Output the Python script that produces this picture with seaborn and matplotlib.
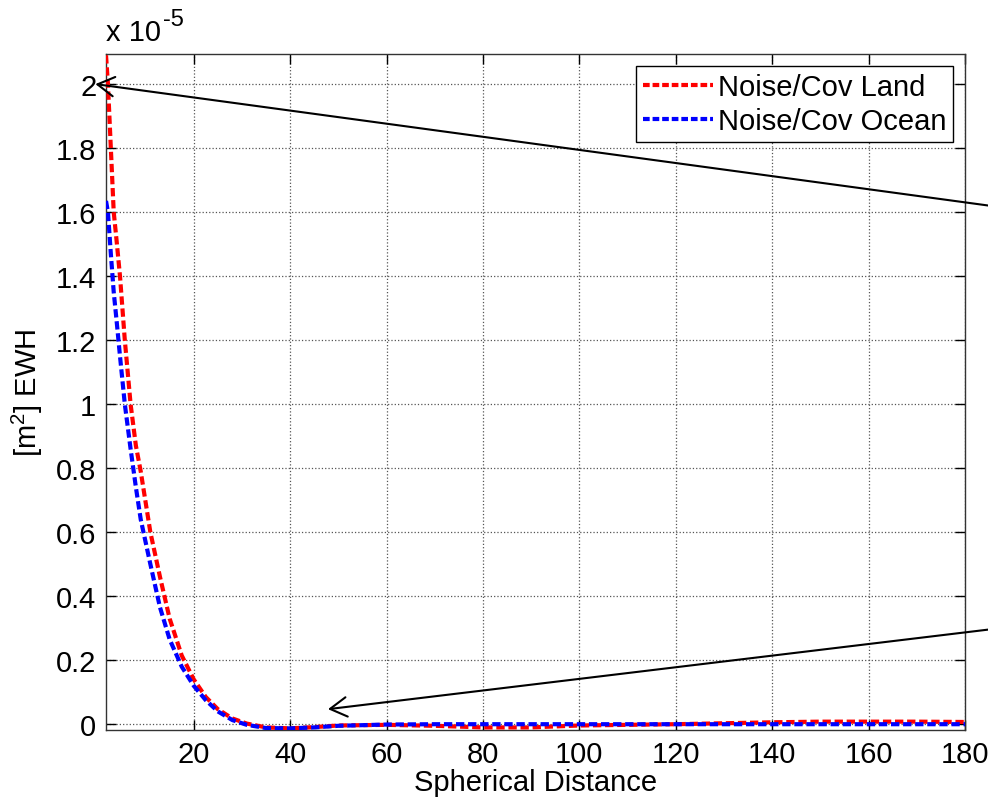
#!/usr/bin/env python3
import matplotlib
matplotlib.use('Agg')
import matplotlib.pyplot as plt
import seaborn as sns

# values, y in units of 1e-5 m^2 EWH
DIST = [1.8, 2.2, 2.8, 3.4, 4.0, 4.7, 5.7, 6.9, 8.0, 9.0, 11, 13, 15, 17.5, 20, 22.5, 25, 28, 31,
        35, 40, 45, 50, 60, 70, 80, 90, 100, 110, 120, 130, 140, 150, 160, 170, 180]
LAND = [2.09, 2.0, 1.8, 1.6, 1.51, 1.4, 1.2, 1.0, 0.87, 0.79, 0.6, 0.46, 0.33, 0.215, 0.14, 0.085,
        0.047, 0.018, 0.002, -0.01, -0.013, -0.009, -0.004, -0.002, -0.005, -0.01, -0.01, -0.004,
        -0.002, 0.0, 0.003, 0.006, 0.008, 0.008, 0.008, 0.007]
OCEAN = [1.635, 1.6, 1.47, 1.35, 1.26, 1.15, 1.0, 0.86, 0.74, 0.64, 0.5, 0.365, 0.265, 0.18, 0.12,
         0.075, 0.04, 0.013, -0.002, -0.012, -0.013, -0.01, -0.005, -0.001, 0.0, 0.0, 0.0, 0.0,
         0.0, 0.0, 0.0, 0.0, 0.0, 0.0, 0.0, 0.0]
LABELS = ['Noise/Cov Land', 'Noise/Cov Ocean']
COLORS = ['#ff0000', '#0000ff']
X_TICKS = [20, 40, 60, 80, 100, 120, 140, 160, 180]
Y_TICKS = [0, 0.2, 0.4, 0.6, 0.8, 1, 1.2, 1.4, 1.6, 1.8, 2]

sns.set_style('ticks')
plt.rcParams['font.family'] = ['Liberation Sans', 'DejaVu Sans']
plt.rcParams['mathtext.fontset'] = 'custom'
plt.rcParams['mathtext.rm'] = 'Liberation Sans'
plt.rcParams['mathtext.it'] = 'Liberation Sans:italic'
plt.rcParams['text.color'] = 'black'
plt.rcParams['axes.labelcolor'] = 'black'
FS = 21

fig = plt.figure(figsize=(9.88, 8.03), dpi=100)
ax = fig.add_axes([0.1073, 0.0897, 0.8694, 0.8418])

for series, label, color in zip([LAND, OCEAN], LABELS, COLORS):
    sns.lineplot(x=DIST, y=series, ax=ax, color=color, label=label, linewidth=3.0,
                 dashes=False, zorder=3)
for line in ax.get_lines():
    line.set_dashes((2.0, 0.9))

ax.set_xlim(1.8, 180)
ax.set_ylim(-0.018, 2.094)
ax.set_xticks(X_TICKS)
ax.set_yticks(Y_TICKS)
ax.set_xticklabels([f'{t:g}' for t in X_TICKS], fontsize=FS)
ax.set_yticklabels([f'{t:g}' for t in Y_TICKS], fontsize=FS)
ax.tick_params(direction='in', top=True, right=True, length=7, width=1, pad=7, colors='black')
ax.grid(True, linestyle=':', color='#555555', linewidth=0.9)
for sp in ax.spines.values():
    sp.set_color('#333333')
    sp.set_linewidth(1)

ax.set_xlabel('Spherical Distance', fontsize=FS, labelpad=0)
ax.set_ylabel('[m$^2$] EWH', fontsize=FS, labelpad=8)
ax.text(0.0, 1.012, 'x 10', transform=ax.transAxes, fontsize=FS, va='bottom', ha='left')
ax.text(0.066, 1.036, '-5', transform=ax.transAxes, fontsize=FS - 4, va='bottom', ha='left')

leg = ax.legend(loc='upper right', fontsize=FS, fancybox=False, framealpha=1, edgecolor='black',
                borderaxespad=0.4, handlelength=2.4, handletextpad=0.15, borderpad=0.25,
                labelspacing=0.2)
leg.get_frame().set_linewidth(1)
for h in leg.get_lines():
    h.set_dashes((1.6, 0.7))

# annotation arrows running off the right edge
arrow = dict(arrowstyle='->,head_length=0.6,head_width=0.35', color='black', lw=1.5,
             shrinkA=0, shrinkB=0, mutation_scale=20)
ax.annotate('', xy=(-0.4, 2.0), xytext=(190, 1.61), arrowprops=arrow, annotation_clip=False)
ax.annotate('', xy=(47.85, 0.047), xytext=(190, 0.305), arrowprops=arrow, annotation_clip=False)

fig.savefig('out.png', dpi=100)
